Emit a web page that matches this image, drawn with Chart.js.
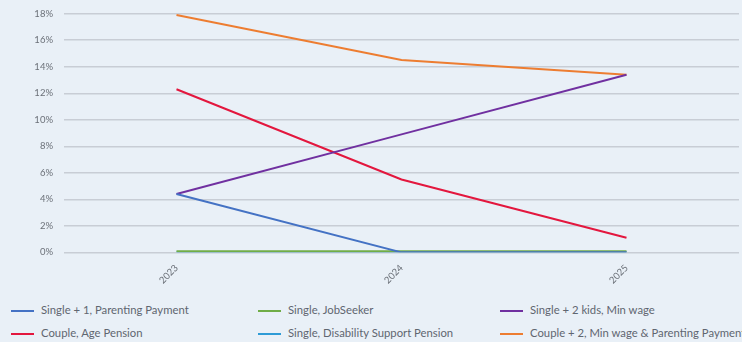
<!DOCTYPE html>
<html>
<head>
<meta charset="utf-8">
<script src="https://cdn.jsdelivr.net/npm/chart.js@4"></script>
<style>
  body { margin: 0; background: #e9f0f7; }
  #wrap { position: relative; width: 742px; height: 342px; overflow: hidden; background: #e9f0f7; }
  #chartBox { position: absolute; left: 0; top: -3.5px; width: 742px; height: 291px; }
  #legend { position: absolute; left: 0; top: 303px; width: 742px; font-family: Lato, sans-serif; font-size: 11.3px; color: #5f6670; }
  .item { position: absolute; white-space: nowrap; }
  .sw { display: inline-block; width: 23px; height: 2px; vertical-align: middle; margin-right: 7px; }
</style>
</head>
<body>
<div id="wrap">
  <div id="chartBox"><canvas id="chart"></canvas></div>
  <div id="legend"></div>
</div>
<script>
// categories and series (percent)
var years = ['2023', '2024', '2025'];
var seriesNames = ['Single + 1,  Parenting Payment', 'Single, JobSeeker', 'Single + 2 kids, Min wage',
                   'Couple, Age Pension', 'Single, Disability Support Pension', 'Couple + 2, Min wage & Parenting Payment'];
var singleParenting = [4.4, 0, 0];
var singleJobSeeker = [0.08, 0.08, 0.08];
var singleTwoKids = [4.4, 8.9, 13.4];
var coupleAge = [12.3, 5.5, 1.1];
var singleDisability = [0, 0, 0];
var coupleTwo = [17.9, 14.5, 13.4];
var colors = ['#4472c4', '#70ad47', '#7030a0', '#e3173e', '#2e9bd6', '#ed7d31'];

var allSeries = [singleParenting, singleJobSeeker, singleTwoKids, coupleAge, singleDisability, coupleTwo];

var datasets = allSeries.map(function (vals, i) {
    return {
        label: seriesNames[i],
        data: vals,
        borderColor: colors[i],
        backgroundColor: colors[i],
        borderWidth: 2,
        pointRadius: 0,
        fill: false,
        tension: 0
    };
});

// legend: 3 columns, 2 rows
var legend = document.getElementById('legend');
var colX = [11, 258, 500];
seriesNames.forEach(function (name, i) {
    var el = document.createElement('div');
    el.className = 'item';
    el.style.left = colX[i % 3] + 'px';
    el.style.top = (i < 3 ? 0 : 23) + 'px';
    el.innerHTML = '<span class="sw" style="background:' + colors[i] + '"></span>' + name;
    legend.appendChild(el);
});

Chart.defaults.font.family = 'Lato, sans-serif';
Chart.defaults.color = '#6b7078';

var ctx = document.getElementById('chart').getContext('2d');
var myChart = new Chart(ctx, {
    type: 'line',
    data: { labels: years, datasets: datasets },
    options: {
        responsive: true,
        maintainAspectRatio: false,
        animation: false,
        layout: { padding: { top: 4.5, right: 3, left: 0, bottom: 0 } },
        plugins: { legend: { display: false }, tooltip: { enabled: false } },
        scales: {
            x: {
                offset: true,
                grid: { display: false },
                border: { display: false },
                ticks: { minRotation: 45, maxRotation: 45, font: { size: 9.5 }, padding: 2 }
            },
            y: {
                min: 0,
                max: 18,
                afterFit: function (scale) { scale.width = 64; },
                grid: { color: '#c8cdd5', lineWidth: 1.5, drawTicks: false },
                border: { display: false },
                ticks: {
                    stepSize: 2,
                    padding: 11,
                    font: { size: 9.5 },
                    callback: function (value) { return value + '%'; }
                }
            }
        }
    }
});
</script>
</body>
</html>
